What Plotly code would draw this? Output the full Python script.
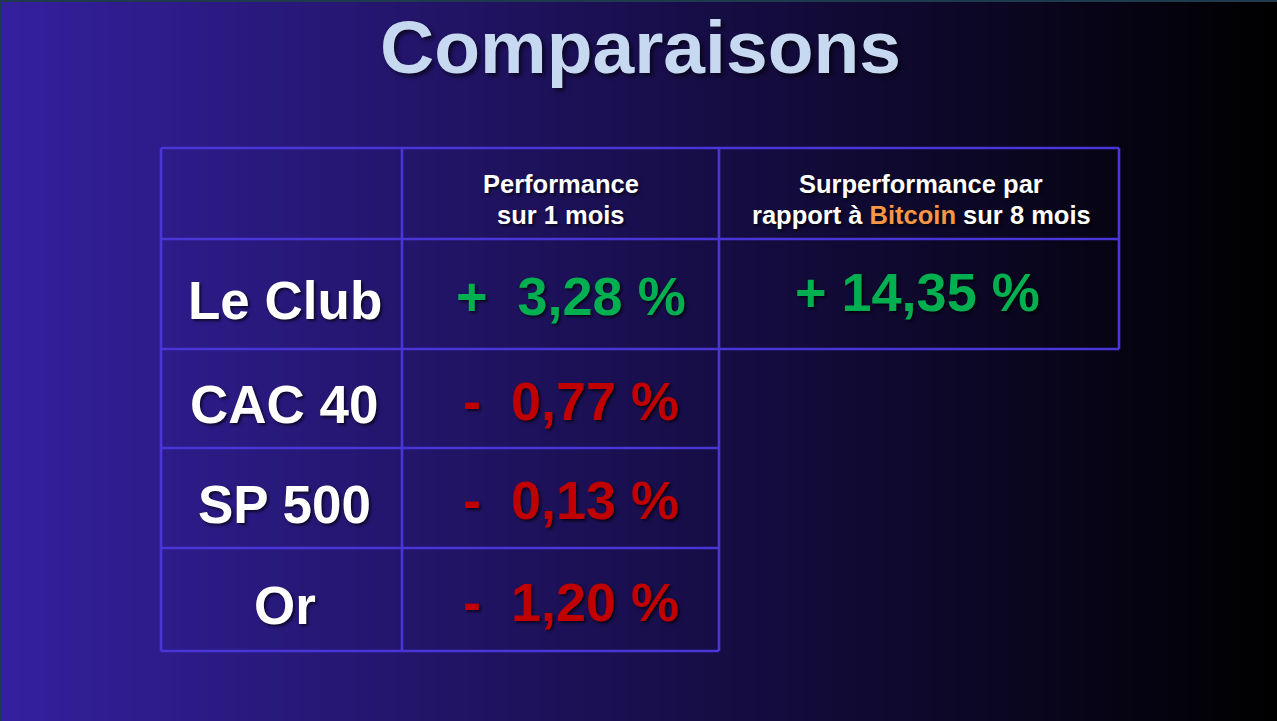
import plotly.graph_objects as go

# ---------------- data ----------------
title_text = "Comparaisons"
categories = ["Le Club", "CAC 40", "SP 500", "Or"]
perf_1m = [3.28, -0.77, -0.13, -1.20]          # Performance sur 1 mois (%)
surperf_btc = [14.35]                          # Surperformance vs Bitcoin sur 8 mois (Le Club only)
header_perf = ["Performance", "sur 1 mois"]
header_surperf = ["Surperformance par",
                  "rapport à <span style='color:#f79646'>Bitcoin</span> sur 8 mois"]

# ---------------- layout constants ----------------
W, H = 1277, 721
col_edges = [161, 402, 719, 1119]
row_edges = [148, 239, 349, 448, 548, 651]
GRID = "#4a36d6"
GREEN = "#00b050"
RED = "#c00000"
FONT = "Liberation Sans, Arial, sans-serif"
SHADOW = "2px 2px 3px rgba(0,0,0,0.65)"


def fmt(v, gap="  "):
    sign = "+" if v >= 0 else "-"
    return f"{sign}{gap}{abs(v):.2f}".replace(".", ",") + " %"


fig = go.Figure()

# gradient background
fig.add_trace(go.Heatmap(
    x=[0, W], y=[0, H], z=[[0, 1], [0, 1]],
    colorscale=[[0, "#34209e"], [0.5, "#190f4e"], [1, "#000000"]],
    zsmooth="best", showscale=False, hoverinfo="skip"))

# table grid
gx, gy = [], []
n_rows_c3 = 1 + len(surperf_btc)
for i, y in enumerate(row_edges):
    x_end = col_edges[3] if i <= n_rows_c3 else col_edges[2]
    gx += [col_edges[0], x_end, None]
    gy += [y, y, None]
for j, x in enumerate(col_edges):
    y_end = row_edges[-1] if j < 3 else row_edges[n_rows_c3]
    gx += [x, x, None]
    gy += [row_edges[0], y_end, None]
fig.add_trace(go.Scatter(x=gx, y=gy, mode="lines",
                         line=dict(color=GRID, width=2.6),
                         hoverinfo="skip", showlegend=False))

ann = []
# title
ann.append(dict(x=640, y=47, text=title_text, showarrow=False,
                xanchor="center", yanchor="middle",
                font=dict(family=FONT, size=75, color="#c6d9f0",
                          weight="bold", shadow="3px 3px 4px rgba(0,0,0,0.6)")))

# headers
c2 = (col_edges[1] + col_edges[2]) / 2
c3 = (col_edges[2] + col_edges[3]) / 2
for k, line in enumerate(header_perf):
    ann.append(dict(x=c2, y=184 + 31 * k, text=line, showarrow=False,
                    xanchor="center", yanchor="middle",
                    font=dict(family=FONT, size=25.5, color="white",
                              weight="bold", shadow=SHADOW)))
for k, line in enumerate(header_surperf):
    ann.append(dict(x=c3 + 2, y=184 + 31 * k, text=line, showarrow=False,
                    xanchor="center", yanchor="middle",
                    font=dict(family=FONT, size=25.5, color="white",
                              weight="bold", shadow=SHADOW)))

# rows
c1 = (col_edges[0] + col_edges[1]) / 2
for i, (cat, v) in enumerate(zip(categories, perf_1m)):
    mid = (row_edges[i + 1] + row_edges[i + 2]) / 2
    ann.append(dict(x=c1 + 3, y=mid + 6, text=cat, showarrow=False,
                    xanchor="center", yanchor="middle",
                    font=dict(family=FONT, size=53, color="white",
                              weight="bold", shadow=SHADOW)))
    ann.append(dict(x=c2 + 10, y=mid + 2, text=fmt(v), showarrow=False,
                    xanchor="center", yanchor="middle",
                    font=dict(family=FONT, size=54,
                              color=GREEN if v >= 0 else RED,
                              weight="bold", shadow=SHADOW)))
for i, v in enumerate(surperf_btc):
    mid = (row_edges[i + 1] + row_edges[i + 2]) / 2
    ann.append(dict(x=c3 - 2, y=mid - 2, text=fmt(v, " "), showarrow=False,
                    xanchor="center", yanchor="middle",
                    font=dict(family=FONT, size=54,
                              color=GREEN if v >= 0 else RED,
                              weight="bold", shadow=SHADOW)))

fig.update_layout(
    width=W, height=H,
    margin=dict(l=0, r=0, t=0, b=0),
    paper_bgcolor="#000000", plot_bgcolor="#000000",
    showlegend=False,
    annotations=ann,
    shapes=[
        dict(type="line", xref="paper", yref="paper", x0=0, x1=1, y0=1, y1=1,
             line=dict(color="#1f3a4c", width=4)),
        dict(type="line", xref="paper", yref="paper", x0=0, x1=0, y0=0, y1=1,
             line=dict(color="#1f3a4c", width=4)),
    ],
)
fig.update_xaxes(range=[0, W], visible=False, fixedrange=True)
fig.update_yaxes(range=[H, 0], visible=False, fixedrange=True)

fig.write_html(
    "out.html",
    config={"displayModeBar": False},
    post_script="document.body.style.margin='0';document.body.style.overflow='hidden';",
)
